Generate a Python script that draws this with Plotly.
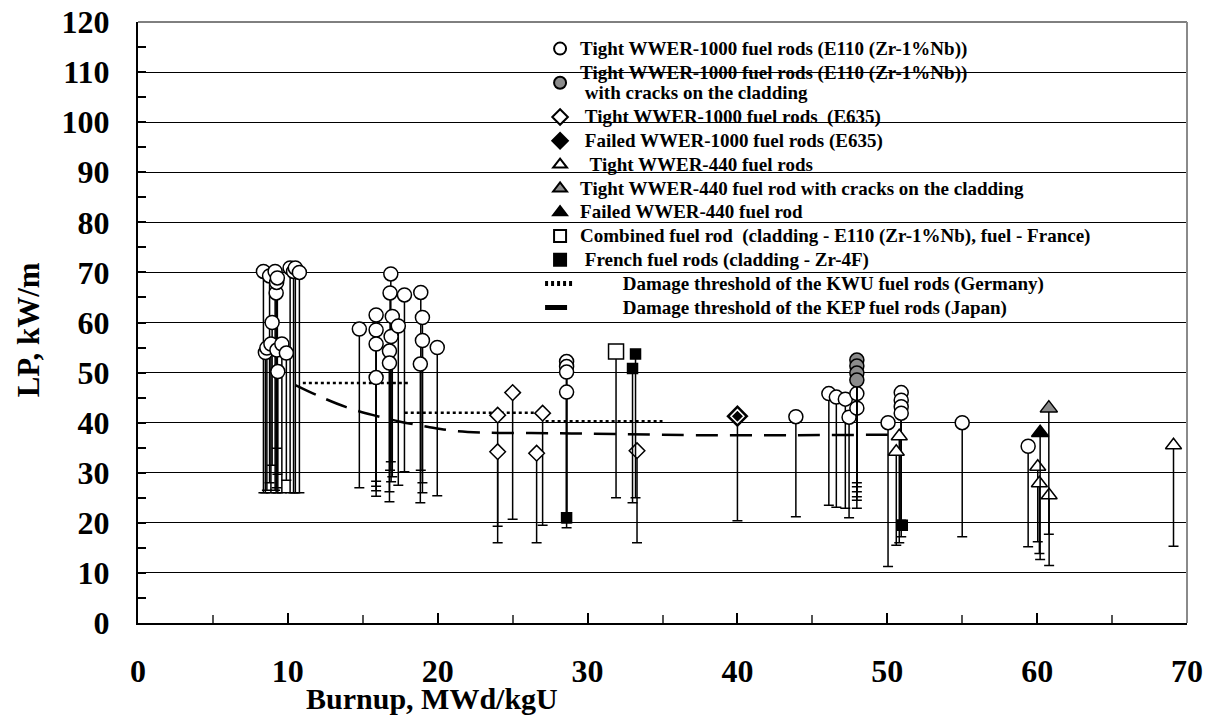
import plotly.graph_objects as go

# ---------------- data ----------------
# Tight WWER-1000 fuel rods (E110) - white circles: burnup, top LP, bottom LP
wc_x   = [8.37, 8.5, 8.6, 8.78, 8.95, 8.87, 9.15, 9.22, 9.25, 9.3, 9.27, 9.33, 9.6, 9.9,
          10.15, 10.38, 10.5, 10.77,
          14.77, 15.89, 15.89, 15.89, 15.89, 16.87, 16.82, 16.97, 16.89, 16.78, 16.78,
          17.37, 17.78, 18.87, 18.98, 18.98, 18.84, 19.97,
          28.6, 28.6, 28.6, 28.6,
          43.9, 46.1, 46.6, 47.2, 47.45, 47.97, 47.97, 50.05,
          50.93, 50.93, 50.93, 50.93, 55.0, 59.4]
wc_top = [70.2, 54.0, 54.9, 69.3, 60.0, 55.7, 70.2, 65.9, 68.0, 68.9, 54.5, 50.2, 55.7, 53.9,
          70.9, 70.2, 70.9, 70.0,
          58.7, 61.5, 58.5, 55.7, 49.0, 69.7, 65.9, 61.2, 57.2, 54.3, 51.9,
          59.3, 65.5, 66.0, 61.0, 56.4, 51.7, 55.0,
          52.2, 51.2, 50.1, 46.1,
          41.2, 45.8, 45.1, 44.7, 41.1, 45.8, 42.9, 40.0,
          46.0, 44.5, 43.2, 41.9, 40.0, 35.3]
wc_bot = [26.0, 26.0, 26.5, 28.0, 31.5, 26.0, 26.5, 26.0, 27.0, 29.7, 34.9, 26.0, 26.0, 28.5,
          26.0, 26.0, 26.0, 26.0,
          27.0, 28.3, 27.3, 26.4, 25.3, 32.2, 30.5, 29.2, 28.2, 26.2, 24.2,
          27.5, 30.2, 30.5, 28.0, 26.0, 24.0, 25.4,
          19.0, 20.0, 20.5, 21.0,
          21.2, 23.5, 23.1, 22.9, 21.0, 25.2, 22.9, 11.3,
          20.5, 19.9, 19.2, 17.2, 17.2, 15.2]

# Tight WWER-1000 (E110) with cracks on the cladding - gray circles
gc_x   = [47.97, 47.97, 47.97, 47.97]
gc_top = [52.5, 51.3, 49.9, 48.5]
gc_bot = [28.0, 27.2, 26.2, 24.5]

# Tight WWER-1000 fuel rods (E635) - open diamonds
wd_x   = [24.0, 24.0, 25.0, 26.6, 27.0, 33.3]
wd_top = [41.5, 34.2, 46.0, 33.9, 41.9, 34.4]
wd_bot = [19.3, 16.0, 20.7, 16.0, 19.5, 16.0]

# Failed WWER-1000 fuel rods (E635) - black diamond
fd_x   = [40.0]
fd_top = [41.3]
fd_bot = [20.4]

# Tight WWER-440 fuel rods - open triangles
wt_x   = [50.8, 50.6, 60.04, 60.15, 60.8, 69.1]
wt_top = [37.3, 34.2, 31.2, 27.9, 25.5, 35.5]
wt_bot = [16.0, 15.5, 16.2, 13.9, 11.5, 15.3]

# Tight WWER-440 fuel rod with cracks - gray triangle
gt_x   = [60.78]
gt_top = [42.9]
gt_bot = [17.7]

# Failed WWER-440 fuel rod - black triangle
ft_x   = [60.2]
ft_top = [38.0]
ft_bot = [12.7]

# Combined fuel rod - open square
ws_x   = [31.9]
ws_top = [54.2]
ws_bot = [25.0]

# French fuel rods (Zr-4F) - black squares
fs_x   = [28.6, 33.0, 33.2, 51.0]
fs_top = [21.0, 50.8, 53.7, 19.5]
fs_bot = [21.0, 24.0, 25.0, 19.5]

# Damage threshold KWU (Germany) - stepwise dotted segments
kwu_x = [11.0, 18.2, None, 17.8, 27.3, None, 27.2, 35.0]
kwu_y = [47.9, 47.9, None, 42.0, 42.0, None, 40.3, 40.3]

# Damage threshold KEP (Japan) - dashed curve
kep_x = [10.5, 12.15, 13.9, 15.7, 17.5, 19.3, 21.0, 23.3, 27.7, 32.2, 37.5, 44.0, 50.5]
kep_y = [47.5, 45.2, 43.1, 41.5, 40.2, 39.2, 38.4, 38.0, 37.9, 37.7, 37.5, 37.5, 37.6]

# ---------------- figure ----------------
FONT = "Liberation Serif"
NB = "\u00a0"
fig = go.Figure()


def lbl(*lines):
    return "<br>".join('<span style="font-size:19px">%s</span>' % s for s in lines)


def err(top, bot):
    return dict(type="data", symmetric=False, array=[0] * len(top),
                arrayminus=[t - b for t, b in zip(top, bot)],
                color="black", thickness=1.5, width=5)


fig.add_trace(go.Scatter(x=kwu_x, y=kwu_y, mode="lines", legendrank=10,
                         name=lbl(NB * 9 + "Damage threshold of the KWU fuel rods (Germany)"),
                         line=dict(color="black", width=2.5, dash="3px,3px")))
fig.add_trace(go.Scatter(x=kep_x, y=kep_y, mode="lines", legendrank=11, line_shape="spline",
                         name=lbl(NB * 9 + "Damage threshold of the KEP fuel rods (Japan)"),
                         line=dict(color="black", width=2.5, dash="22px,12px")))


def pts(x, top, bot, name, rank, symbol, fill, size, lw=1.5, lc="black"):
    fig.add_trace(go.Scatter(
        x=x, y=top, mode="markers", name=name, legendrank=rank,
        error_y=err(top, bot),
        marker=dict(symbol=symbol, color=fill, size=size, line=dict(color=lc, width=lw))))


pts(wd_x, wd_top, wd_bot, lbl(NB + "Tight WWER-1000 fuel rods  (E635)"), 3, "diamond", "white", 12)
pts(ws_x, ws_top, ws_bot,
    lbl("Combined fuel rod" + NB + " (cladding - E110 (Zr-1%Nb), fuel - France)"), 8,
    "square", "white", 15)
pts(fs_x, fs_top, fs_bot, lbl(NB + "French fuel rods (cladding - Zr-4F)"), 9, "square", "black", 10)
pts(wc_x, wc_top, wc_bot, lbl("Tight WWER-1000 fuel rods (E110 (Zr-1%Nb))"), 1,
    "circle", "white", 14)
pts(gc_x, gc_top, gc_bot,
    lbl("Tight WWER-1000 fuel rods (E110 (Zr-1%Nb))", NB + "with cracks on the cladding"), 2,
    "circle", "#8c8c8c", 14)
pts(fd_x, fd_top, fd_bot, lbl(NB + "Failed WWER-1000 fuel rods (E635)"), 4, "diamond", "black", 15,
    lw=2, lc="black")
fig.add_trace(go.Scatter(x=fd_x, y=fd_top, mode="markers", showlegend=False, hoverinfo="skip",
                         marker=dict(symbol="diamond", color="black", size=10,
                                     line=dict(color="white", width=1.5))))
pts(wt_x, wt_top, wt_bot, lbl(NB * 2 + "Tight WWER-440 fuel rods"), 5, "triangle-up", "white", 14)
pts(ft_x, ft_top, ft_bot, lbl("Failed WWER-440 fuel rod"), 7, "triangle-up", "black", 15)
pts(gt_x, gt_top, gt_bot, lbl("Tight WWER-440 fuel rod with cracks on the cladding"), 6,
    "triangle-up", "#8c8c8c", 15)

# plot area in page pixels: x 137.7..1187.3, y 22.3..622.7
def px_x(p):
    return (p - 137.7) / 1049.6


def px_y(p):
    return (622.7 - p) / 600.4


# white panel behind the legend (hides grid lines like the original)
fig.add_shape(type="rect", xref="paper", yref="paper", layer="between",
              x0=px_x(554), x1=px_x(1152), y0=px_y(336), y1=px_y(40),
              fillcolor="white", line=dict(width=0))
# top frame line (grid line at 120) and grey right frame line
fig.add_shape(type="line", xref="paper", yref="paper", x0=0, x1=1, y0=1, y1=1,
              line=dict(color="black", width=1))
fig.add_shape(type="line", xref="paper", yref="paper", x0=1, x1=1, y0=0, y1=1,
              line=dict(color="#8a8a8a", width=2))

fig.add_annotation(text="Burnup, MWd/kgU", xref="paper", yref="paper",
                   x=px_x(432), y=px_y(698), showarrow=False,
                   font=dict(family=FONT, size=30, color="black", weight="bold"),
                   xanchor="center", yanchor="middle")
fig.add_annotation(text="LP, kW/m", xref="paper", yref="paper",
                   x=px_x(28), y=px_y(330), showarrow=False, textangle=-90,
                   font=dict(family=FONT, size=31, color="black", weight="bold"),
                   xanchor="center", yanchor="middle")

fig.update_layout(
    width=1211, height=708,
    margin=dict(l=130, r=32, t=14, b=93, autoexpand=False),
    paper_bgcolor="white", plot_bgcolor="white",
    font=dict(family=FONT, color="black"),
    showlegend=True,
    legend=dict(x=px_x(540), y=px_y(32), xanchor="left", yanchor="top",
                bgcolor="rgba(0,0,0,0)", borderwidth=0, itemsizing="constant",
                font=dict(family=FONT, size=16, color="black", weight="bold"),
                traceorder="normal"),
    xaxis=dict(range=[0, 70], dtick=10, tick0=0, showgrid=False, zeroline=False,
               automargin=False, ticklabeloverflow="allow",
               showline=True, linecolor="black", linewidth=2,
               ticks="inside", ticklen=10, tickwidth=1.5, tickcolor="black",
               tickfont=dict(family=FONT, size=32, color="black", weight="bold"),
               ticklabelstandoff=19,
               minor=dict(dtick=5, ticks="inside", ticklen=8, tickcolor="#555", tickwidth=1.5)),
    yaxis=dict(range=[0, 120], dtick=10, tick0=0, showgrid=True, gridcolor="black",
               gridwidth=1, zeroline=False, automargin=False, ticklabeloverflow="allow",
               showline=True, linecolor="black", linewidth=2,
               ticks="inside", ticklen=8, tickwidth=1.5, tickcolor="black",
               tickfont=dict(family=FONT, size=32, color="black", weight="bold"),
               ticklabelstandoff=20,
               minor=dict(dtick=5, ticks="inside", ticklen=8, tickcolor="black", tickwidth=1.5)),
)

fig.write_html("out.html")
